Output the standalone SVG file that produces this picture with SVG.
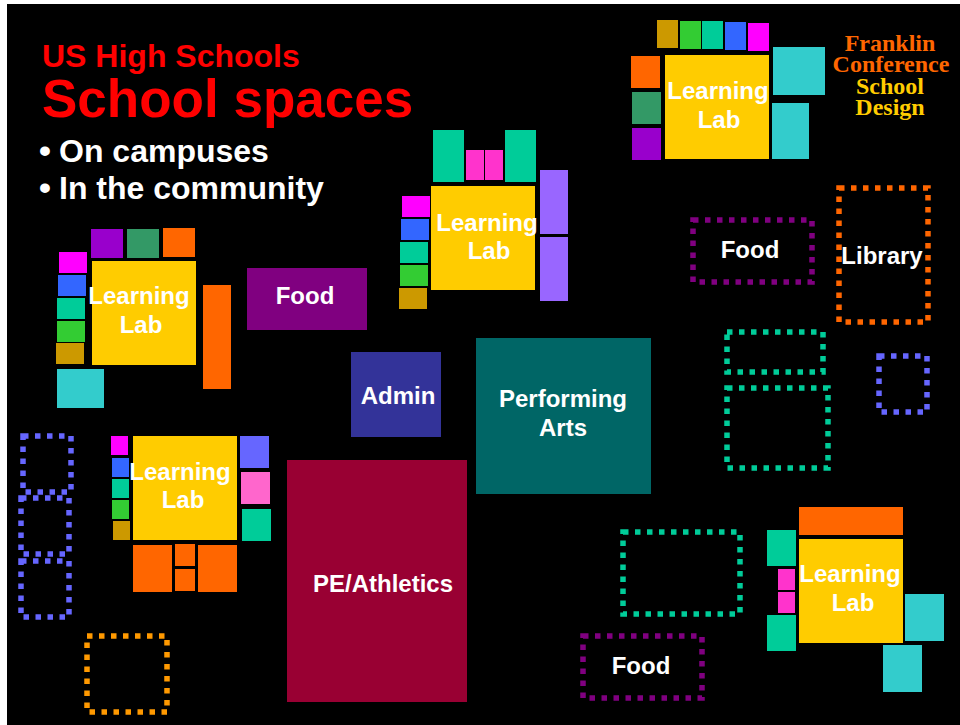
<svg xmlns="http://www.w3.org/2000/svg" width="960" height="725" viewBox="0 0 960 725">
<style>
.lbl{font-family:"Liberation Sans",Arial,sans-serif;font-weight:bold;font-size:24px;fill:#FFFFFF;text-anchor:middle}
.dot{fill:none;stroke-width:5.5;stroke-dasharray:5.5 6.5}
.ylw{fill:#FFCC00}.tgr{fill:#00CC99}.pnk{fill:#FF33CC}.lpu{fill:#9966FF}.mag{fill:#FF00FF}
.blu{fill:#3366FF}.grn{fill:#33CC33}.gld{fill:#CC9900}.pur{fill:#9900CC}.sea{fill:#339966}
.org{fill:#FF6600}.cyn{fill:#33CCCC}.vio{fill:#6666FF}.pk2{fill:#FF66CC}
.tmr{font-family:"Liberation Serif","Times New Roman",serif;font-weight:bold;font-size:24px;text-anchor:middle}
</style>
<rect x="0" y="0" width="960" height="725" fill="#FFFFFF"/>
<rect x="7" y="4" width="953" height="721" fill="#000000"/>

<g id="title" font-family="Liberation Sans, Arial, sans-serif" font-weight="bold">
  <text x="42" y="67" font-size="32" fill="#FF0000">US High Schools</text>
  <text x="42" y="117" font-size="53" fill="#FF0000">School spaces</text>
  <text x="39" y="162" font-size="34" fill="#FFFFFF">•</text>
  <text x="59" y="162" font-size="32" fill="#FFFFFF">On campuses</text>
  <text x="39" y="199" font-size="34" fill="#FFFFFF">•</text>
  <text x="59" y="199" font-size="32" fill="#FFFFFF">In the community</text>
</g>

<g id="franklin-logo">
  <text class="tmr" x="890" y="51" fill="#FF6600">Franklin</text>
  <text class="tmr" x="891" y="72" fill="#FF6600">Conference</text>
  <text class="tmr" x="890" y="94" fill="#FFCC00">School</text>
  <text class="tmr" x="890" y="115" fill="#FFCC00">Design</text>
</g>

<g id="learning-lab-top-right">
  <rect class="gld" x="657" y="20" width="21" height="28"/>
  <rect class="grn" x="680" y="21" width="21" height="28"/>
  <rect class="tgr" x="702" y="21" width="21" height="28"/>
  <rect class="blu" x="725" y="22" width="21" height="28"/>
  <rect class="mag" x="748" y="23" width="21" height="28"/>
  <rect class="org" x="631" y="56" width="29" height="32"/>
  <rect class="sea" x="632" y="92" width="29" height="32"/>
  <rect class="pur" x="632" y="128" width="29" height="32"/>
  <rect class="cyn" x="773" y="47" width="52" height="48"/>
  <rect class="cyn" x="772" y="103" width="37" height="56"/>
  <rect class="ylw" x="665" y="55" width="104" height="104"/>
  <text class="lbl" x="718" y="99">Learning</text>
  <text class="lbl" x="719" y="128">Lab</text>
</g>

<g id="learning-lab-center">
  <rect class="tgr" x="433" y="130" width="31" height="52"/>
  <rect class="pnk" x="466" y="150" width="18" height="30"/>
  <rect class="pnk" x="485" y="150" width="18" height="30"/>
  <rect class="tgr" x="505" y="130" width="31" height="52"/>
  <rect class="lpu" x="540" y="170" width="28" height="64"/>
  <rect class="lpu" x="540" y="237" width="28" height="64"/>
  <rect class="mag" x="402" y="196" width="28" height="21"/>
  <rect class="blu" x="401" y="219" width="28" height="21"/>
  <rect class="tgr" x="400" y="242" width="28" height="21"/>
  <rect class="grn" x="400" y="265" width="28" height="21"/>
  <rect class="gld" x="399" y="288" width="28" height="21"/>
  <rect class="ylw" x="431" y="186" width="104" height="104"/>
  <text class="lbl" x="487" y="231">Learning</text>
  <text class="lbl" x="489" y="259">Lab</text>
</g>

<g id="learning-lab-left">
  <rect class="pur" x="91" y="229" width="32" height="29"/>
  <rect class="sea" x="127" y="229" width="32" height="29"/>
  <rect class="org" x="163" y="228" width="32" height="29"/>
  <rect class="org" x="203" y="285" width="28" height="104"/>
  <rect class="mag" x="59" y="252" width="28" height="21"/>
  <rect class="blu" x="58" y="275" width="28" height="21"/>
  <rect class="tgr" x="57" y="298" width="28" height="21"/>
  <rect class="grn" x="57" y="321" width="28" height="21"/>
  <rect class="gld" x="56" y="343" width="28" height="21"/>
  <rect class="cyn" x="57" y="369" width="47" height="39"/>
  <rect class="ylw" x="92" y="261" width="104" height="104"/>
  <text class="lbl" x="139" y="304">Learning</text>
  <text class="lbl" x="141" y="333">Lab</text>
</g>

<g id="learning-lab-bottom-left">
  <rect class="mag" x="111" y="436" width="17" height="19"/>
  <rect class="blu" x="112" y="458" width="17" height="19"/>
  <rect class="tgr" x="112" y="479" width="17" height="19"/>
  <rect class="grn" x="112" y="500" width="17" height="19"/>
  <rect class="gld" x="113" y="521" width="17" height="19"/>
  <rect class="vio" x="240" y="436" width="29" height="32"/>
  <rect class="pk2" x="241" y="472" width="29" height="32"/>
  <rect class="tgr" x="242" y="509" width="29" height="32"/>
  <rect class="org" x="133" y="545" width="39" height="47"/>
  <rect class="org" x="175" y="544" width="20" height="22"/>
  <rect class="org" x="175" y="569" width="20" height="22"/>
  <rect class="org" x="198" y="545" width="39" height="47"/>
  <rect class="ylw" x="133" y="436" width="104" height="104"/>
  <text class="lbl" x="180" y="480">Learning</text>
  <text class="lbl" x="183" y="508">Lab</text>
</g>

<g id="learning-lab-bottom-right">
  <rect class="org" x="799" y="507" width="104" height="28"/>
  <rect class="tgr" x="767" y="530" width="29" height="36"/>
  <rect class="pnk" x="778" y="569" width="17" height="21"/>
  <rect class="pnk" x="778" y="592" width="17" height="21"/>
  <rect class="tgr" x="767" y="615" width="29" height="36"/>
  <rect class="cyn" x="905" y="594" width="39" height="47"/>
  <rect class="cyn" x="883" y="645" width="39" height="47"/>
  <rect class="ylw" x="799" y="539" width="104" height="104"/>
  <text class="lbl" x="850" y="582">Learning</text>
  <text class="lbl" x="853" y="611">Lab</text>
</g>

<g id="food">
  <rect x="247" y="268" width="120" height="62" fill="#800080"/>
  <text class="lbl" x="305" y="304">Food</text>
</g>
<g id="admin">
  <rect x="351" y="352" width="90" height="85" fill="#333399"/>
  <text class="lbl" x="398" y="404">Admin</text>
</g>
<g id="performing-arts">
  <rect x="476" y="338" width="175" height="156" fill="#006666"/>
  <text class="lbl" x="563" y="407">Performing</text>
  <text class="lbl" x="563" y="436">Arts</text>
</g>
<g id="pe-athletics">
  <rect x="287" y="460" width="180" height="242" fill="#990033"/>
  <text class="lbl" x="383" y="592">PE/Athletics</text>
</g>

<g id="community-food-top">
  <rect class="dot" x="693" y="220" width="119" height="62" stroke="#800080"/>
  <text class="lbl" x="750" y="258">Food</text>
</g>
<g id="community-library">
  <rect class="dot" x="839" y="188" width="89" height="134" stroke="#FF6600"/>
  <text class="lbl" x="882" y="264">Library</text>
</g>
<g id="community-space-a">
  <rect class="dot" x="727" y="332" width="96" height="40" stroke="#00CC99"/>
</g>
<g id="community-space-b">
  <rect class="dot" x="727" y="388" width="101" height="80" stroke="#00CC99"/>
</g>
<g id="community-space-c">
  <rect class="dot" x="879" y="356" width="48" height="56" stroke="#6666FF"/>
</g>
<g id="community-space-d">
  <rect class="dot" x="623" y="532" width="117" height="82" stroke="#00CC99"/>
</g>
<g id="community-food-bottom">
  <rect class="dot" x="583" y="636" width="119" height="62" stroke="#800080"/>
  <text class="lbl" x="641" y="674">Food</text>
</g>
<g id="community-space-e">
  <rect class="dot" x="23" y="436" width="48" height="56" stroke="#6666FF"/>
</g>
<g id="community-space-f">
  <rect class="dot" x="21" y="498" width="48" height="56" stroke="#6666FF"/>
</g>
<g id="community-space-g">
  <rect class="dot" x="21" y="561" width="48" height="56" stroke="#6666FF"/>
</g>
<g id="community-space-h">
  <rect class="dot" x="87" y="636" width="80" height="76" stroke="#FF9900"/>
</g>

<g id="connectors"></g>
</svg>
